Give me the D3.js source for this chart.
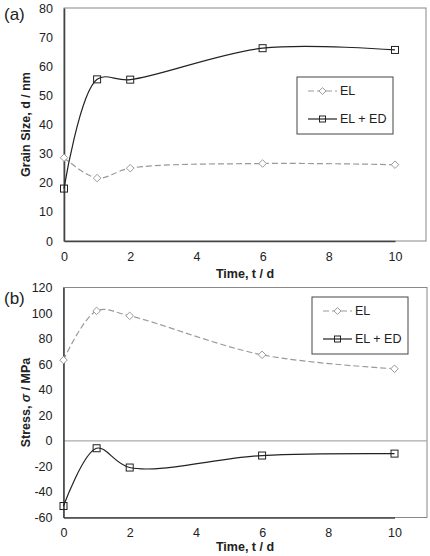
<html>
<head>
  <script src="https://d3js.org/d3.v7.min.js"></script>
  <style>
    body { margin: 0; background: white; }
    text { font-family: "Liberation Sans", Arial, sans-serif; fill: #222; }
  </style>
</head>
<body>
  <svg id="chart" width="430" height="556"></svg>
  <script>
    // data
    const times = [0, 1, 2, 6, 10];
    const grainEL = [28.6, 21.6, 25.0, 26.6, 26.2];
    const grainELED = [18.0, 55.5, 55.4, 66.2, 65.6];
    const stressEL = [63.2, 101.7, 97.8, 67.3, 56.4];
    const stressELED = [-51.0, -5.8, -20.9, -11.5, -10.0];
    const xTicks = [0, 2, 4, 6, 8, 10];
    const grainTicks = [0, 10, 20, 30, 40, 50, 60, 70, 80];
    const stressTicks = [-60, -40, -20, 0, 20, 40, 60, 80, 100, 120];
    const seriesNames = ["EL", "EL + ED"];

    const svg = d3.select("svg#chart");

    function drawPanel(cfg) {
      const g = svg.append("g");
      const x = d3.scaleLinear().domain([0, 10]).range([cfg.left, cfg.left + 331]);
      const y = d3.scaleLinear().domain(cfg.yDomain).range([cfg.bottom, cfg.top]);

      // light frame (top, right)
      g.append("rect")
        .attr("x", cfg.left).attr("y", cfg.top)
        .attr("width", cfg.right - cfg.left).attr("height", cfg.bottom - cfg.top)
        .attr("fill", "none").attr("stroke", "#888").attr("stroke-width", 1);

      if (cfg.zeroLine) {
        g.append("line")
          .attr("x1", cfg.left).attr("x2", cfg.right)
          .attr("y1", y(0)).attr("y2", y(0))
          .attr("stroke", "#aaa").attr("stroke-width", 1.2);
      }

      // axes
      let leftAxis = d3.axisLeft(y).tickValues(cfg.yTicks).tickSize(0).tickPadding(11)
        .tickFormat(d => String(d));
      let ya = g.append("g").attr("transform", `translate(${cfg.left},0)`).call(leftAxis);
      let bottomAxis = d3.axisBottom(x).tickValues(xTicks).tickSize(0).tickPadding(11)
        .tickFormat(d => String(d));
      let xa = g.append("g").attr("transform", `translate(0,${cfg.bottom})`).call(bottomAxis);
      [ya, xa].forEach(a => {
        a.select(".domain").attr("stroke", "#444").attr("stroke-width", 1.6);
        a.selectAll("text").attr("font-size", 12.5).attr("fill", "#222")
          .attr("font-family", "Liberation Sans, Arial, sans-serif");
      });

      const line = d3.line()
        .x((d, i) => x(times[i]))
        .y(d => y(d))
        .curve(d3.curveCatmullRom.alpha(0.5));

      // EL series
      g.append("path").datum(cfg.el).attr("d", line)
        .attr("fill", "none").attr("stroke", "#999").attr("stroke-width", 1.2)
        .attr("stroke-dasharray", "6,3");
      g.selectAll(".dia").data(cfg.el).join("path")
        .attr("d", d3.symbol(d3.symbolDiamond2, 36))
        .attr("transform", (d, i) => `translate(${x(times[i])},${y(d)})`)
        .attr("fill", "white").attr("stroke", "#999").attr("stroke-width", 1);

      // EL + ED series
      g.append("path").datum(cfg.eled).attr("d", line)
        .attr("fill", "none").attr("stroke", "#222").attr("stroke-width", 1.2);
      g.selectAll(".sq").data(cfg.eled).join("rect")
        .attr("x", (d, i) => x(times[i]) - 3.5).attr("y", d => y(d) - 3.5)
        .attr("width", 7).attr("height", 7)
        .attr("fill", "none").attr("stroke", "#222").attr("stroke-width", 1);

      // axis titles
      g.append("text")
        .attr("transform", `translate(${cfg.yTitleX},${(cfg.top + cfg.bottom) / 2}) rotate(-90)`)
        .attr("text-anchor", "middle").attr("font-size", 12.5).attr("font-weight", "bold")
        .html(cfg.yTitle);
      g.append("text")
        .attr("x", 245).attr("y", cfg.xTitleY)
        .attr("text-anchor", "middle").attr("font-size", 12.5).attr("font-weight", "bold")
        .text("Time, t / d");

      g.append("text").attr("x", 4).attr("y", cfg.labelY)
        .attr("font-size", 17).text(cfg.label);

      // legend
      const lg = cfg.legend;
      g.append("rect").attr("x", lg.x).attr("y", lg.y).attr("width", 96).attr("height", 57)
        .attr("fill", "white").attr("stroke", "#444").attr("stroke-width", 1);
      seriesNames.forEach((name, i) => {
        const ly = lg.y + 14 + i * 28;
        const lx0 = lg.x + 11, lx1 = lg.x + 40;
        if (i === 0) {
          g.append("line").attr("x1", lx0).attr("x2", lx1).attr("y1", ly).attr("y2", ly)
            .attr("stroke", "#999").attr("stroke-width", 1.2).attr("stroke-dasharray", "6,3");
          g.append("path").attr("d", d3.symbol(d3.symbolDiamond2, 30))
            .attr("transform", `translate(${(lx0 + lx1) / 2},${ly})`)
            .attr("fill", "white").attr("stroke", "#999");
        } else {
          g.append("line").attr("x1", lx0).attr("x2", lx1).attr("y1", ly).attr("y2", ly)
            .attr("stroke", "#222").attr("stroke-width", 1.2);
          g.append("rect").attr("x", (lx0 + lx1) / 2 - 3).attr("y", ly - 3)
            .attr("width", 6).attr("height", 6).attr("fill", "none").attr("stroke", "#222");
        }
        g.append("text").attr("x", lx1 + 3).attr("y", ly).attr("dy", "0.35em")
          .attr("font-size", 12.5).text(name);
      });
    }

    drawPanel({
      left: 64, right: 426, top: 8, bottom: 241,
      yDomain: [0, 80], yTicks: grainTicks,
      el: grainEL, eled: grainELED,
      yTitle: "Grain Size, d / nm", yTitleX: 30, xTitleY: 278,
      label: "(a)", labelY: 20,
      legend: { x: 297, y: 77 }
    });

    drawPanel({
      left: 63.5, right: 427, top: 287.5, bottom: 517.5,
      yDomain: [-60, 120], yTicks: stressTicks, zeroLine: true,
      el: stressEL, eled: stressELED,
      yTitle: "Stress, <tspan font-style='italic'>σ</tspan> / MPa", yTitleX: 30, xTitleY: 551,
      label: "(b)", labelY: 304,
      legend: { x: 312, y: 297 }
    });
  </script>
</body>
</html>
